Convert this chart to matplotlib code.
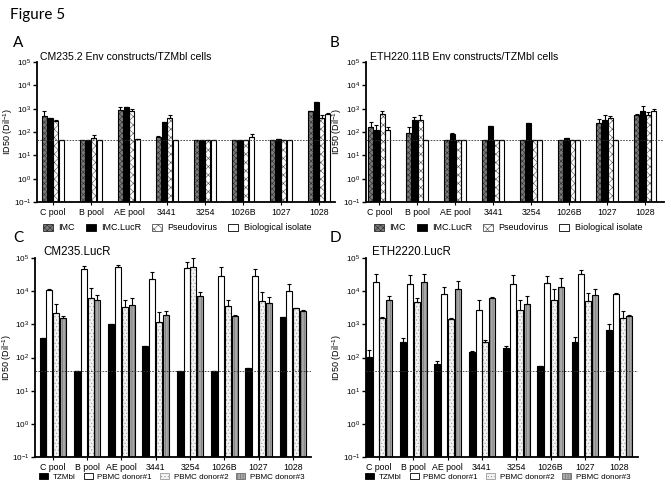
import numpy as np
import matplotlib
matplotlib.use("Agg")
import matplotlib.pyplot as plt
from matplotlib.patches import Patch
from matplotlib.ticker import LogLocator, LogFormatterMathtext, NullLocator

plt.rcParams['font.family'] = ['Liberation Sans', 'DejaVu Sans']
plt.rcParams['hatch.linewidth'] = 0.4
plt.rcParams['mathtext.default'] = 'regular'

categories = ["C pool", "B pool", "AE pool", "3441", "3254", "1026B", "1027", "1028"]

# panel A: CM235.2 Env constructs / TZMbl cells
a_imc = [490, 45, 850, 61, 45, 45, 45, 770]
a_imc_top = [770, 45, 1180, 65, 45, 45, 45, 800]
a_lucr = [400, 45, 1150, 270, 45, 45, 52, 1950]
a_lucr_top = [400, 45, 1150, 270, 45, 45, 52, 1950]
a_pseudo = [290, 55, 800, 415, 45, 45, 45, 400]
a_pseudo_top = [320, 78, 1000, 520, 45, 45, 45, 560]
a_bio = [45, 45, 48, 45, 45, 61, 45, 590]
a_bio_top = [45, 45, 50, 45, 45, 80, 45, 650]

# panel B: ETH220.11B Env constructs / TZMbl cells
b_imc = [163, 91, 45, 45, 45, 45, 240, 550]
b_imc_top = [270, 160, 45, 45, 45, 45, 370, 580]
b_lucr = [125, 340, 79, 175, 240, 57, 315, 800]
b_lucr_top = [190, 440, 91, 185, 255, 57, 520, 1260]
b_pseudo = [610, 340, 45, 45, 45, 45, 410, 520]
b_pseudo_top = [770, 550, 45, 45, 45, 45, 470, 720]
b_bio = [125, 44, 45, 45, 45, 45, 45, 770]
b_bio_top = [163, 44, 45, 45, 45, 45, 45, 1000]

# panel C: CM235.LucR
c_tzm = [385, 40, 1050, 230, 40, 40, 48, 1700]
c_tzm_top = [385, 40, 1050, 230, 40, 40, 48, 1700]
c_d1 = [11000, 46000, 52000, 23000, 50000, 29000, 29000, 10000]
c_d1_top = [12000, 56000, 60000, 39000, 74000, 55000, 46000, 16000]
c_d2 = [2250, 6100, 3300, 1200, 52000, 3500, 4900, 3100]
c_d2_top = [4200, 12600, 5500, 2300, 100000, 5500, 9500, 3200]
c_d3 = [1500, 5500, 3900, 1900, 7000, 1800, 4400, 2600]
c_d3_top = [1750, 7900, 6100, 2500, 9500, 1950, 6600, 2700]

# panel D: ETH2220.LucR
d_tzm = [105, 300, 65, 142, 200, 54, 285, 690]
d_tzm_top = [167, 375, 80, 160, 225, 56, 425, 1030]
d_d1 = [19000, 16000, 8000, 2800, 16000, 18000, 32000, 8300]
d_d1_top = [34000, 30000, 13000, 5600, 30000, 28000, 44000, 8700]
d_d2 = [1500, 4700, 1480, 285, 2750, 5400, 4900, 1500]
d_d2_top = [1650, 6200, 1500, 340, 5500, 12000, 9000, 2500]
d_d3 = [5300, 19500, 11800, 6200, 4000, 13500, 7800, 1750]
d_d3_top = [7300, 32000, 20000, 6900, 7400, 25000, 12000, 1850]

cutoff_ab = 45
cutoff_cd = 40

# (face, hatch, hatch colour)
styles_ab = [('#7a7a7a', 'xxxxxx', '#2a2a2a'),
             ('black', None, 'black'),
             ('white', 'xxxx', '#505050'),
             ('white', None, 'black')]
styles_cd = [('black', None, 'black'),
             ('white', None, 'black'),
             ('#f2f2f2', '.....', '#9a9a9a'),
             ('#a8a8a8', '||||||', '#6a6a6a')]
labels_ab = ["IMC", "IMC.LucR", "Pseudovirus", "Biological isolate"]
labels_cd = ["TZMbl", "PBMC donor#1", "PBMC donor#2", "PBMC donor#3"]


def draw_panel(ax, series, tops, styles, pitch, width, xlim, cutoff, label_x):
    x = np.arange(len(categories))
    for i, (vals, top, st) in enumerate(zip(series, tops, styles)):
        vals = np.array(vals, dtype=float)
        top = np.array(top, dtype=float)
        xs = x + (i - 1.5) * pitch
        face, hatch, hcol = st
        ax.bar(xs, vals - 0.1, bottom=0.1, width=width, color=face,
               hatch=hatch, edgecolor=hcol, linewidth=0, zorder=2)
        ax.bar(xs, vals - 0.1, bottom=0.1, width=width, fill=False,
               edgecolor='black', linewidth=0.8, zorder=3)
        ax.errorbar(xs, vals, yerr=[np.zeros_like(vals), top - vals], fmt='none',
                    ecolor='black', elinewidth=0.8, capsize=1.6, capthick=0.8, zorder=4)
    ax.axhline(cutoff, color='#333333', linestyle=(0, (2, 1.5)), linewidth=0.6, zorder=5)
    ax.set_yscale('log')
    ax.set_ylim(0.1, 1e5)
    ax.set_xlim(*xlim)
    ax.yaxis.set_major_locator(LogLocator(base=10, numticks=10))
    ax.yaxis.set_major_formatter(LogFormatterMathtext())
    ax.yaxis.set_minor_locator(NullLocator())
    ax.set_xticks(x)
    ax.set_xticklabels(categories, fontsize=6.3)
    ax.tick_params(axis='y', labelsize=5.9, length=3, width=1, pad=1)
    ax.tick_params(axis='x', length=2, width=0.8, pad=2)
    for s in ['top', 'right']:
        ax.spines[s].set_visible(False)
    for s in ['left', 'bottom']:
        ax.spines[s].set_linewidth(1.3)
    ax.set_ylabel('ID50 (Dil$^{-1}$)', fontsize=6.5)
    ax.yaxis.set_label_coords(label_x, 0.5)
    ax.xaxis.label.set_visible(False)


def add_legend(fig, styles, labels, cx, cy, fs, colsp):
    handles = []
    for face, hatch, hcol in styles:
        handles.append(Patch(facecolor=face, hatch=hatch, edgecolor=hcol if hatch else 'black',
                             linewidth=0.6))
    fig.legend(handles, labels, loc='center', bbox_to_anchor=(cx, cy), ncol=4,
               frameon=False, fontsize=fs, handlelength=1.1, handleheight=0.7,
               columnspacing=colsp, handletextpad=0.6, borderpad=0.1)


W, H = 672, 491
fig = plt.figure(figsize=(W / 100, H / 100), dpi=100)

axA = fig.add_axes([37 / W, 1 - 202 / H, 298 / W, 140 / H])
axB = fig.add_axes([366 / W, 1 - 202 / H, 298 / W, 140 / H])
axC = fig.add_axes([35 / W, 1 - 457 / H, 276 / W, 199 / H])
axD = fig.add_axes([366 / W, 1 - 457 / H, 272 / W, 199 / H])

draw_panel(axA, [a_imc, a_lucr, a_pseudo, a_bio], [a_imc_top, a_lucr_top, a_pseudo_top, a_bio_top],
           styles_ab, 0.15, 0.135, (-0.42, 7.42), cutoff_ab, -0.075)
draw_panel(axB, [b_imc, b_lucr, b_pseudo, b_bio], [b_imc_top, b_lucr_top, b_pseudo_top, b_bio_top],
           styles_ab, 0.15, 0.135, (-0.35, 7.49), cutoff_ab, -0.075)
draw_panel(axC, [c_tzm, c_d1, c_d2, c_d3], [c_tzm_top, c_d1_top, c_d2_top, c_d3_top],
           styles_cd, 0.2, 0.175, (-0.52, 7.53), cutoff_cd, -0.075)
draw_panel(axD, [d_tzm, d_d1, d_d2, d_d3], [d_tzm_top, d_d1_top, d_d2_top, d_d3_top],
           styles_cd, 0.2, 0.175, (-0.38, 7.55), cutoff_cd, -0.08)

fig.text(40 / W, 1 - 57 / H, "CM235.2 Env constructs/TZMbl cells", fontsize=7.6, va='center')
fig.text(370 / W, 1 - 57 / H, "ETH220.11B Env constructs/TZMbl cells", fontsize=7.6, va='center')
fig.text(43 / W, 1 - 252 / H, "CM235.LucR", fontsize=8.3, va='center')
fig.text(372 / W, 1 - 252 / H, "ETH2220.LucR", fontsize=8.3, va='center')

add_legend(fig, styles_ab, labels_ab, 177 / W, 1 - 228 / H, 6.5, 1.2)
add_legend(fig, styles_ab, labels_ab, 508 / W, 1 - 228 / H, 6.5, 1.2)
add_legend(fig, styles_cd, labels_cd, 172 / W, 1 - 477 / H, 5.8, 1.0)
add_legend(fig, styles_cd, labels_cd, 498 / W, 1 - 477 / H, 5.8, 1.0)

letter_font = ['Lato', 'DejaVu Sans']
fig.text(10 / W, 1 - 15 / H, "Figure 5", fontsize=11, va='center', family=letter_font)
fig.text(13 / W, 1 - 43 / H, "A", fontsize=11, va='center', family=letter_font)
fig.text(330 / W, 1 - 43 / H, "B", fontsize=11, va='center', family=letter_font)
fig.text(13 / W, 1 - 238 / H, "C", fontsize=11, va='center', family=letter_font)
fig.text(330 / W, 1 - 238 / H, "D", fontsize=11, va='center', family=letter_font)

fig.savefig("out.png", dpi=100)
